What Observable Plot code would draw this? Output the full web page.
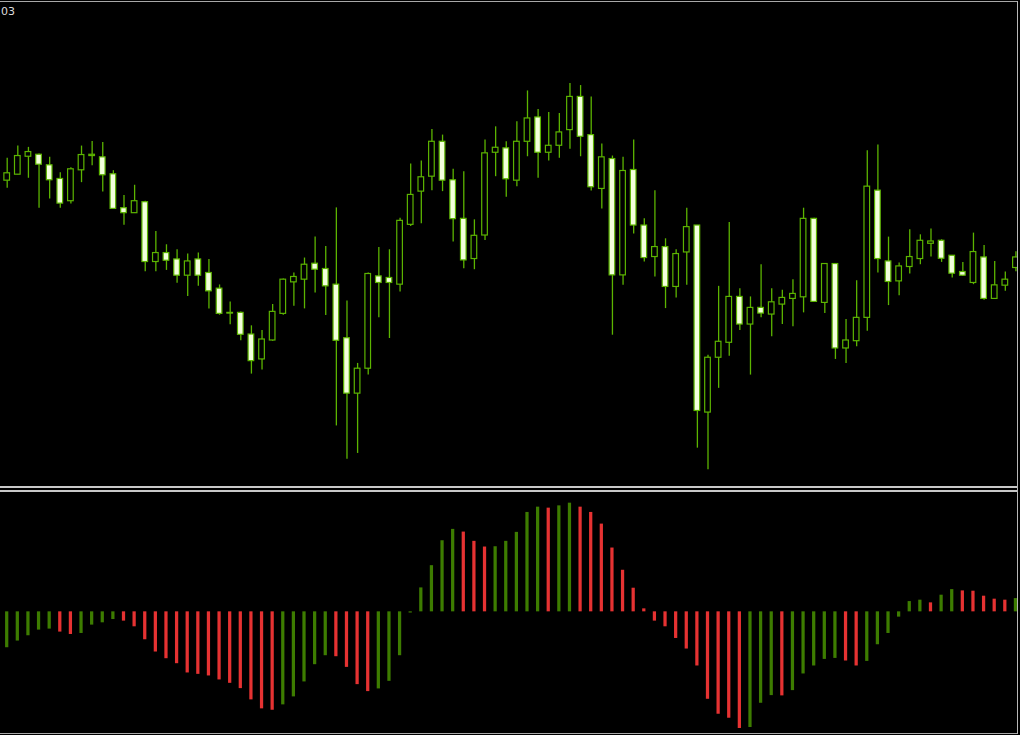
<!DOCTYPE html>
<html>
<head>
<meta charset="utf-8">
<script src="https://cdn.jsdelivr.net/npm/d3@7"></script>
<script src="https://cdn.jsdelivr.net/npm/@observablehq/plot@0.6"></script>
<style>
  html, body { margin: 0; padding: 0; background: #000; }
  #wrap { position: relative; width: 1017px; border-right: 1px solid #b8b8b8; margin-top: 1px; }
  #top { height: 484px; overflow: hidden; border-top: 1px solid #a8a8a8; border-bottom: 2px solid #c8c8c8; }
  #gap { height: 2px; background: #000; }
  #bottom { height: 241px; overflow: hidden; border-top: 2px solid #c8c8c8; border-bottom: 1px solid #a8a8a8; }
  #label { position: absolute; left: 1px; top: 4px; color: #dcdcdc; font: 11px "DejaVu Sans", sans-serif; }
  svg { display: block; }
</style>
</head>
<body>
<div id="wrap">
  <div id="top"></div>
  <div id="gap"></div>
  <div id="bottom"></div>
  <div id="label">03</div>
</div>
<script>
// Price candles (arbitrary price units)
const open = [319.3,325.3,343.3,345.3,334.7,321,298.7,329.7,344,342.7,
  325.7,291.7,286.7,297.7,237.7,246.7,240.3,224,240.3,226.7,
  211,186.7,186.7,165,140,159,185.7,217.3,220,236,
  230.7,215,161.3,105.7,130.7,223.3,221.7,215,275,308.3,
  323.3,358.3,319.7,281,240.7,264.3,347.3,351.7,319.3,358.3,
  382.7,347.3,354.3,370,403.3,365,311,341,224.3,330,
  274.3,242.7,252.7,212.7,247.3,274.3,86.7,141.7,156.7,202.7,
  175,191.7,185,195,200.7,202.3,281,196.7,235.7,151,
  158.3,181.7,309.3,238.3,218.3,232.7,240.7,256,259,244,
  227.7,216.7,242.3,200.7,214,231.7];
const close = [326.7,344,348,335.3,319.7,296.3,330.7,345,345.3,324.7,
  291,286.7,298.7,237.7,246.7,239,224,238.3,224,208.3,
  185.7,186,164.7,138.3,160,187.7,220,222.7,235,230,
  213.3,158.7,105.7,130.7,225.7,216.7,216.7,279,305,322.7,
  358.3,319.3,280.7,239.3,264,346.7,352.3,320.7,358.3,381.7,
  347.3,354.3,367.7,403.3,363.3,312.7,342.7,224.3,329,274.3,
  241.7,252.7,212.7,245.7,272.7,88.3,141.7,157.7,202.7,175,
  191.7,186,197.3,201.7,205.7,281,197.7,235.7,151,159,
  181.7,313.3,240.7,217.7,233.3,242.7,259,258.3,241,226,
  224,247.7,200.7,214.3,220,242.3];
const high = [341.7,354,352.7,346,342.7,327.3,332.3,354,358.7,357.7,
  329.3,304.3,314.7,298.7,268.3,255,250,245.7,246.7,240.3,
  214.7,197.7,187.7,173.7,169,195,220.7,226.7,241.7,262.7,
  253.3,292,198.7,136,226.7,252.3,250,281.7,336,339,
  370.7,365,330.7,328.3,280,360,373.3,358.3,378.3,409.3,
  390.7,387.7,386.7,416.7,414.7,403.3,356,344,342.7,360,
  281,309.3,261,250,291.7,274.3,144.3,213.3,277.3,211,
  202.7,235,211,209.3,220,291.7,281.7,236,236,180,
  219,349.3,355,262.7,236.7,270,265,270.7,260,244,
  237.3,266.7,254.3,238.3,227.7,248];
const low = [311.7,325.3,321.7,291.7,301,291.7,296,317.3,334.3,308,
  290.7,274.7,286.7,228,228,229.3,216.3,203,213.3,190.7,
  184.3,174.7,158.7,125.3,129.3,158.3,184.3,193.3,190.7,206.7,
  184,73.3,40,45.7,124.3,181.7,161,207.7,273.3,276,
  309.3,308.3,257.7,231,230,259.3,323.3,302.7,313.3,343.3,
  321.7,339,341.7,350.7,343.3,309,291,164.3,214.3,265.7,
  237.7,222.7,191,201.7,214.3,51,29.3,111,143.3,169,
  124.3,181.7,162.7,175,172.7,186.7,197.7,186,140,136,
  152.7,168.3,226.7,194,204,225.7,235,242.7,237.3,221.7,
  223.3,215,199.3,200.7,208.3,228];

// Awesome Oscillator histogram
const ao = [-36,-29.3,-24,-18.3,-17.3,-20.3,-22.7,-21.7,-13.3,-11,
  -7.7,-9.3,-15,-28,-40.3,-47,-52,-61.3,-62.7,-64.3,
  -68.3,-71.7,-77,-88.3,-97.3,-98.7,-93.3,-85.3,-70.3,-53,
  -44,-45,-55.7,-73,-80,-77.3,-69.7,-44,-1.2,24,
  46.3,71.3,82.7,80,70.7,65,65.3,70.7,79.7,99.7,
  105,104,106.3,109,105,99.7,88,64,41.7,23.7,
  3,-9.3,-15,-26.7,-37.3,-54.3,-87.7,-102.7,-106.7,-117,
  -116,-91.7,-84,-84.3,-79,-62.3,-54.3,-47.7,-46.7,-49.3,
  -54.3,-49.7,-33,-21.7,-5.3,10.3,11.7,9,16.7,22.3,
  21,20.7,15.7,12.7,11.7,13.3];
const aoDir = ["g","g","g","g","g","r","r","g","g","g",
  "g","r","r","r","r","r","r","r","r","r",
  "r","r","r","r","r","r","g","g","g","g",
  "g","r","r","r","r","g","g","g","g","g",
  "g","g","g","r","r","r","g","g","g","g",
  "g","r","g","g","r","r","r","r","r","r",
  "r","r","r","r","r","r","r","r","r","r",
  "g","g","g","r","g","g","g","g","g","r",
  "r","g","g","g","g","g","g","r","g","g",
  "r","r","r","r","r","g"];

const candleStroke = "#5cb400";
const bearFill = "#f3ffdc";
const upColor = "#3d7c00";
const downColor = "#e63232";

const idx = d3.range(open.length);
const candles = idx.map(i => ({i, open: open[i], close: close[i], high: high[i], low: low[i]}));
const osc = idx.map(i => ({i, ao: ao[i], dir: aoDir[i]}));

const xScale = {type: "band", domain: idx, range: [1.375, 1023.775], padding: 0, axis: null};

const topPlot = Plot.plot({
  width: 1020, height: 484,
  marginTop: 0, marginBottom: 0, marginLeft: 0, marginRight: 0,
  style: {background: "#000"},
  x: xScale,
  y: {domain: [14, 498], axis: null},
  marks: [
    Plot.ruleX(candles, {x: "i", y1: "low", y2: "high", stroke: candleStroke, strokeWidth: 1.3}),
    Plot.barY(candles, {x: "i", y1: "open", y2: "close",
      fill: d => d.close >= d.open ? "#000" : bearFill,
      stroke: candleStroke, strokeWidth: 1.2, insetLeft: 2.5, insetRight: 2.5})
  ]
});
document.getElementById("top").append(topPlot);

const bottomPlot = Plot.plot({
  width: 1020, height: 241,
  marginTop: 0, marginBottom: 0, marginLeft: 0, marginRight: 0,
  style: {background: "#000"},
  x: xScale,
  y: {domain: [-121.3, 119.7], axis: null},
  marks: [
    Plot.barY(osc, {x: "i", y: "ao", fill: d => d.dir === "g" ? upColor : downColor,
      insetLeft: 3.7, insetRight: 3.7})
  ]
});
document.getElementById("bottom").append(bottomPlot);
</script>
</body>
</html>
